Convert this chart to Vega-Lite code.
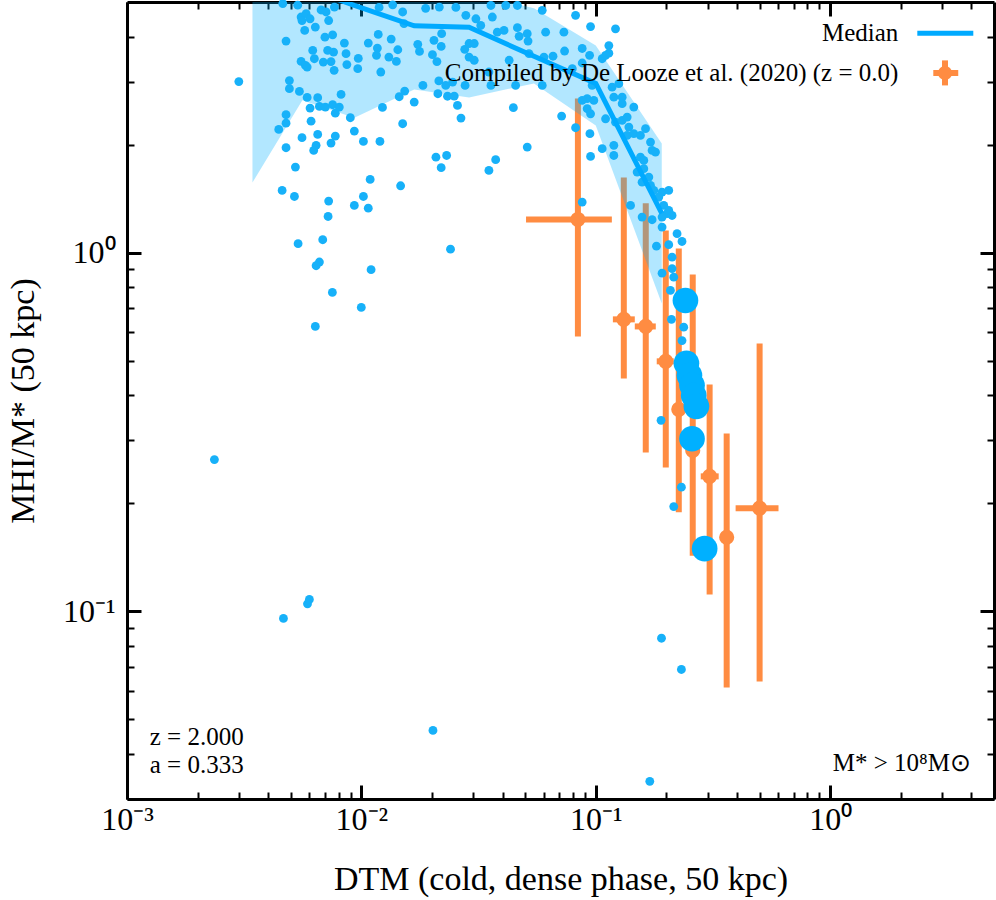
{
  "$schema": "https://vega.github.io/schema/vega-lite/v6.json",
  "width": 867,
  "height": 797,
  "autosize": "none",
  "padding": {"left": 127, "top": 2, "right": 2, "bottom": 101},
  "background": "white",
  "config": {
    "view": {"stroke": null},
    "font": "Liberation Serif",
    "axis": {
      "grid": false,
      "domain": true,
      "domainColor": "black",
      "domainWidth": 3,
      "tickColor": "black",
      "labelFont": "Liberation Serif",
      "labelFontSize": 32,
      "labelColor": "black",
      "titleFont": "Liberation Serif",
      "titleFontSize": 34,
      "titleFontWeight": "normal",
      "titleColor": "black",
      "labelOverlap": false,
      "labelFlush": false,
      "labelBound": false,
      "zindex": 1
    }
  },
  "datasets": {
    "sim": [
      {"dtm": 0.003, "ratio": 3.0}, {"dtm": 0.00462, "ratio": 4.95}, {"dtm": 0.00535, "ratio": 4.9}, {"dtm": 0.00477, "ratio": 3.89},
      {"dtm": 0.00493, "ratio": 3.02}, {"dtm": 0.00493, "ratio": 2.866}, {"dtm": 0.00544, "ratio": 2.817}, {"dtm": 0.00587, "ratio": 2.71},
      {"dtm": 0.00651, "ratio": 2.705}, {"dtm": 0.00477, "ratio": 2.425}, {"dtm": 0.00477, "ratio": 2.297}, {"dtm": 0.00444, "ratio": 2.207},
      {"dtm": 0.00477, "ratio": 1.962}, {"dtm": 0.00523, "ratio": 1.733}, {"dtm": 0.00459, "ratio": 1.492}, {"dtm": 0.00518, "ratio": 1.435},
      {"dtm": 0.00558, "ratio": 2.093}, {"dtm": 0.00604, "ratio": 2.53}, {"dtm": 0.0061, "ratio": 2.327}, {"dtm": 0.00651, "ratio": 2.137},
      {"dtm": 0.00641, "ratio": 1.992}, {"dtm": 0.00626, "ratio": 1.929}, {"dtm": 0.00662, "ratio": 2.558}, {"dtm": 0.00702, "ratio": 2.547},
      {"dtm": 0.00754, "ratio": 2.586}, {"dtm": 0.00774, "ratio": 2.45}, {"dtm": 0.00805, "ratio": 2.547}, {"dtm": 0.00819, "ratio": 2.763},
      {"dtm": 0.00774, "ratio": 2.114}, {"dtm": 0.00742, "ratio": 2.021}, {"dtm": 0.00725, "ratio": 1.393}, {"dtm": 0.00721, "ratio": 1.262},
      {"dtm": 0.00537, "ratio": 1.06}, {"dtm": 0.00684, "ratio": 1.087}, {"dtm": 0.00662, "ratio": 0.942}, {"dtm": 0.00641, "ratio": 0.92},
      {"dtm": 0.00933, "ratio": 1.355}, {"dtm": 0.0102, "ratio": 1.435}, {"dtm": 0.0107, "ratio": 1.331}, {"dtm": 0.0109, "ratio": 1.601},
      {"dtm": 0.0147, "ratio": 1.537}, {"dtm": 0.00933, "ratio": 2.183}, {"dtm": 0.0102, "ratio": 2.043}, {"dtm": 0.012, "ratio": 2.043},
      {"dtm": 0.015, "ratio": 2.289}, {"dtm": 0.00897, "ratio": 2.379}, {"dtm": 0.0123, "ratio": 2.542}, {"dtm": 0.0145, "ratio": 2.722},
      {"dtm": 0.0153, "ratio": 2.822}, {"dtm": 0.0168, "ratio": 2.63}, {"dtm": 0.0183, "ratio": 2.927}, {"dtm": 0.0208, "ratio": 1.847},
      {"dtm": 0.0231, "ratio": 1.867}, {"dtm": 0.0219, "ratio": 1.726}, {"dtm": 0.024, "ratio": 1.023}, {"dtm": 0.0212, "ratio": 2.775},
      {"dtm": 0.0214, "ratio": 3.013}, {"dtm": 0.0233, "ratio": 2.731}, {"dtm": 0.0249, "ratio": 2.733}, {"dtm": 0.0257, "ratio": 2.575},
      {"dtm": 0.0266, "ratio": 2.373}, {"dtm": 0.0229, "ratio": 2.927}, {"dtm": 0.0245, "ratio": 2.99}, {"dtm": 0.00553, "ratio": 3.415},
      {"dtm": 0.00577, "ratio": 3.328}, {"dtm": 0.00587, "ratio": 3.292}, {"dtm": 0.0062, "ratio": 3.664}, {"dtm": 0.0063, "ratio": 3.474},
      {"dtm": 0.00636, "ratio": 4.256}, {"dtm": 0.00573, "ratio": 4.167}, {"dtm": 0.00553, "ratio": 4.54}, {"dtm": 0.00581, "ratio": 4.64},
      {"dtm": 0.00558, "ratio": 4.44}, {"dtm": 0.00604, "ratio": 4.49}, {"dtm": 0.00673, "ratio": 4.75}, {"dtm": 0.00699, "ratio": 3.99},
      {"dtm": 0.00725, "ratio": 4.44}, {"dtm": 0.00707, "ratio": 4.69}, {"dtm": 0.00754, "ratio": 4.05}, {"dtm": 0.00767, "ratio": 4.84},
      {"dtm": 0.00688, "ratio": 3.4}, {"dtm": 0.00718, "ratio": 3.664}, {"dtm": 0.00742, "ratio": 3.41}, {"dtm": 0.00761, "ratio": 3.625},
      {"dtm": 0.00765, "ratio": 3.224}, {"dtm": 0.00846, "ratio": 3.84}, {"dtm": 0.0086, "ratio": 3.588}, {"dtm": 0.00867, "ratio": 3.345},
      {"dtm": 0.0097, "ratio": 3.48}, {"dtm": 0.00965, "ratio": 3.26}, {"dtm": 0.0107, "ratio": 3.84}, {"dtm": 0.0118, "ratio": 4.06},
      {"dtm": 0.0117, "ratio": 3.72}, {"dtm": 0.0116, "ratio": 3.55}, {"dtm": 0.0121, "ratio": 3.19}, {"dtm": 0.0134, "ratio": 3.94},
      {"dtm": 0.0131, "ratio": 3.51}, {"dtm": 0.0143, "ratio": 3.68}, {"dtm": 0.0141, "ratio": 3.415}, {"dtm": 0.015, "ratio": 4.69},
      {"dtm": 0.0136, "ratio": 4.91}, {"dtm": 0.0152, "ratio": 4.35}, {"dtm": 0.0174, "ratio": 3.81}, {"dtm": 0.0177, "ratio": 3.64},
      {"dtm": 0.0188, "ratio": 4.8}, {"dtm": 0.0201, "ratio": 3.565}, {"dtm": 0.0204, "ratio": 3.91}, {"dtm": 0.021, "ratio": 3.41},
      {"dtm": 0.0219, "ratio": 3.76}, {"dtm": 0.022, "ratio": 4.08}, {"dtm": 0.0215, "ratio": 4.84}, {"dtm": 0.0253, "ratio": 4.83},
      {"dtm": 0.0276, "ratio": 3.69}, {"dtm": 0.0279, "ratio": 4.59}, {"dtm": 0.0119, "ratio": 4.83}, {"dtm": 0.011, "ratio": 0.897},
      {"dtm": 0.00752, "ratio": 0.775}, {"dtm": 0.00636, "ratio": 0.623}, {"dtm": 0.00999, "ratio": 0.704}, {"dtm": 0.00236, "ratio": 0.265},
      {"dtm": 0.00465, "ratio": 0.0956}, {"dtm": 0.00589, "ratio": 0.105}, {"dtm": 0.006, "ratio": 0.108}, {"dtm": 0.0202, "ratio": 0.0466},
      {"dtm": 0.17, "ratio": 0.0336}, {"dtm": 0.0288, "ratio": 3.51}, {"dtm": 0.0303, "ratio": 3.44}, {"dtm": 0.0288, "ratio": 3.83},
      {"dtm": 0.0303, "ratio": 3.83}, {"dtm": 0.0323, "ratio": 4.3}, {"dtm": 0.0308, "ratio": 4.49}, {"dtm": 0.0362, "ratio": 4.54},
      {"dtm": 0.0357, "ratio": 4.89}, {"dtm": 0.0413, "ratio": 4.89}, {"dtm": 0.038, "ratio": 4.12}, {"dtm": 0.0406, "ratio": 4.167},
      {"dtm": 0.0463, "ratio": 4.24}, {"dtm": 0.0471, "ratio": 4.01}, {"dtm": 0.051, "ratio": 4.08}, {"dtm": 0.0514, "ratio": 3.89},
      {"dtm": 0.0611, "ratio": 4.12}, {"dtm": 0.0519, "ratio": 3.588}, {"dtm": 0.0427, "ratio": 3.44}, {"dtm": 0.0601, "ratio": 3.51},
      {"dtm": 0.0657, "ratio": 3.53}, {"dtm": 0.0731, "ratio": 4.12}, {"dtm": 0.0736, "ratio": 3.65}, {"dtm": 0.082, "ratio": 4.59},
      {"dtm": 0.095, "ratio": 4.27}, {"dtm": 0.1214, "ratio": 4.21}, {"dtm": 0.0875, "ratio": 3.71}, {"dtm": 0.0875, "ratio": 3.38},
      {"dtm": 0.0794, "ratio": 3.26}, {"dtm": 0.0941, "ratio": 3.55}, {"dtm": 0.1065, "ratio": 3.474}, {"dtm": 0.1137, "ratio": 3.78},
      {"dtm": 0.1137, "ratio": 3.6}, {"dtm": 0.0357, "ratio": 2.927}, {"dtm": 0.0455, "ratio": 2.927}, {"dtm": 0.0591, "ratio": 2.927},
      {"dtm": 0.035, "ratio": 3.19}, {"dtm": 0.0277, "ratio": 2.927}, {"dtm": 0.0445, "ratio": 2.537}, {"dtm": 0.0715, "ratio": 2.404},
      {"dtm": 0.082, "ratio": 2.231}, {"dtm": 0.0944, "ratio": 2.147}, {"dtm": 0.051, "ratio": 1.97}, {"dtm": 0.095, "ratio": 1.856},
      {"dtm": 0.1065, "ratio": 1.95}, {"dtm": 0.0374, "ratio": 1.817}, {"dtm": 0.035, "ratio": 1.696}, {"dtm": 0.0919, "ratio": 2.688},
      {"dtm": 0.0981, "ratio": 2.658}, {"dtm": 0.0919, "ratio": 2.52}, {"dtm": 0.095, "ratio": 2.44}, {"dtm": 0.0875, "ratio": 2.658},
      {"dtm": 0.0965, "ratio": 2.927}, {"dtm": 0.1174, "ratio": 2.895}, {"dtm": 0.1254, "ratio": 2.96}, {"dtm": 0.1194, "ratio": 2.715},
      {"dtm": 0.1296, "ratio": 2.715}, {"dtm": 0.1296, "ratio": 2.603}, {"dtm": 0.1453, "ratio": 2.547}, {"dtm": 0.1101, "ratio": 2.363},
      {"dtm": 0.1214, "ratio": 2.312}, {"dtm": 0.1296, "ratio": 2.338}, {"dtm": 0.1361, "ratio": 2.388}, {"dtm": 0.1384, "ratio": 2.24},
      {"dtm": 0.1361, "ratio": 2.123}, {"dtm": 0.1453, "ratio": 2.147}, {"dtm": 0.1551, "ratio": 2.123}, {"dtm": 0.163, "ratio": 2.217},
      {"dtm": 0.1712, "ratio": 2.034}, {"dtm": 0.1739, "ratio": 1.929}, {"dtm": 0.1798, "ratio": 1.908}, {"dtm": 0.1194, "ratio": 1.992},
      {"dtm": 0.1194, "ratio": 1.867}, {"dtm": 0.1551, "ratio": 1.847}, {"dtm": 0.1603, "ratio": 1.809}, {"dtm": 0.1501, "ratio": 1.678},
      {"dtm": 0.1603, "ratio": 1.715}, {"dtm": 0.1684, "ratio": 1.625}, {"dtm": 0.1576, "ratio": 1.573}, {"dtm": 0.1712, "ratio": 1.54},
      {"dtm": 0.1768, "ratio": 1.492}, {"dtm": 0.1918, "ratio": 1.476}, {"dtm": 0.2048, "ratio": 1.492}, {"dtm": 0.1857, "ratio": 1.429},
      {"dtm": 0.195, "ratio": 1.355}, {"dtm": 0.2015, "ratio": 1.285}, {"dtm": 0.2048, "ratio": 1.312}, {"dtm": 0.1918, "ratio": 1.257},
      {"dtm": 0.1576, "ratio": 1.257}, {"dtm": 0.1407, "ratio": 1.355}, {"dtm": 0.0875, "ratio": 1.384}, {"dtm": 0.1101, "ratio": 3.55},
      {"dtm": 0.1739, "ratio": 1.236}, {"dtm": 0.2116, "ratio": 1.27}, {"dtm": 0.1918, "ratio": 1.179}, {"dtm": 0.2222, "ratio": 1.13},
      {"dtm": 0.2333, "ratio": 1.075}, {"dtm": 0.1815, "ratio": 1.043}, {"dtm": 0.2048, "ratio": 1.053}, {"dtm": 0.2116, "ratio": 0.972},
      {"dtm": 0.2116, "ratio": 0.903}, {"dtm": 0.1918, "ratio": 0.877}, {"dtm": 0.2151, "ratio": 0.855}, {"dtm": 0.2082, "ratio": 0.785},
      {"dtm": 0.2103, "ratio": 0.652}, {"dtm": 0.2372, "ratio": 0.62}, {"dtm": 0.2333, "ratio": 0.569}, {"dtm": 0.1899, "ratio": 0.341},
      {"dtm": 0.2319, "ratio": 0.222}, {"dtm": 0.2151, "ratio": 0.196}, {"dtm": 0.1907, "ratio": 0.0842}, {"dtm": 0.2319, "ratio": 0.0689},
      {"dtm": 0.0463, "ratio": 4.89}, {"dtm": 0.0591, "ratio": 4.74}
    ],
    "big": [
      {"dtm": 0.2413, "ratio": 0.736}, {"dtm": 0.2436, "ratio": 0.492}, {"dtm": 0.2509, "ratio": 0.455}, {"dtm": 0.2574, "ratio": 0.427},
      {"dtm": 0.2617, "ratio": 0.4}, {"dtm": 0.2687, "ratio": 0.373}, {"dtm": 0.2574, "ratio": 0.303}, {"dtm": 0.2914, "ratio": 0.1496}
    ],
    "obs": [
      {"dtm": 0.0839, "xlo": 0.0504, "xhi": 0.1171, "ratio": 1.238, "ylo": 0.584, "yhi": 2.693},
      {"dtm": 0.1317, "xlo": 0.1183, "xhi": 0.1467, "ratio": 0.652, "ylo": 0.446, "yhi": 1.622},
      {"dtm": 0.1634, "xlo": 0.1467, "xhi": 0.1803, "ratio": 0.623, "ylo": 0.2775, "yhi": 1.373},
      {"dtm": 0.1989, "xlo": 0.182, "xhi": 0.2151, "ratio": 0.498, "ylo": 0.252, "yhi": 1.154},
      {"dtm": 0.226, "xlo": 0.226, "xhi": 0.226, "ratio": 0.366, "ylo": 0.189, "yhi": 1.028},
      {"dtm": 0.2592, "xlo": 0.2592, "xhi": 0.2592, "ratio": 0.281, "ylo": 0.143, "yhi": 0.87},
      {"dtm": 0.306, "xlo": 0.2804, "xhi": 0.3345, "ratio": 0.238, "ylo": 0.1115, "yhi": 0.4294},
      {"dtm": 0.3618, "xlo": 0.3618, "xhi": 0.3618, "ratio": 0.161, "ylo": 0.0614, "yhi": 0.3134},
      {"dtm": 0.5, "xlo": 0.395, "xhi": 0.602, "ratio": 0.194, "ylo": 0.0638, "yhi": 0.5587}
    ],
    "median": [
      {"dtm": 0.00343, "ratio": 6.2, "lo": 1.57, "hi": 7.42},
      {"dtm": 0.0056, "ratio": 5.53, "lo": 2.66, "hi": 6.96},
      {"dtm": 0.00933, "ratio": 4.89, "lo": 2.38, "hi": 6.53},
      {"dtm": 0.0168, "ratio": 4.29, "lo": 2.85, "hi": 6.12},
      {"dtm": 0.0288, "ratio": 4.25, "lo": 2.71, "hi": 5.32},
      {"dtm": 0.0545, "ratio": 3.53, "lo": 2.965, "hi": 4.8},
      {"dtm": 0.1, "ratio": 2.965, "lo": 2.264, "hi": 3.78},
      {"dtm": 0.1912, "ratio": 1.287, "lo": 0.722, "hi": 2.017}
    ]
  },
  "layer": [
    {
      "layer": [
        {
          "data": {"name": "obs"},
          "mark": {"type": "rule", "strokeWidth": 6, "color": "#ff8c42"},
          "encoding": {
            "x": {
              "field": "dtm", "type": "quantitative",
              "scale": {"type": "log", "domain": [0.001, 5], "nice": false},
              "axis": {
                "orient": "bottom",
                "title": "DTM (cold, dense phase, 50 kpc)",
                "values": [0.001,0.002,0.003,0.004,0.005,0.006,0.007,0.008,0.009,0.01,0.02,0.03,0.04,0.05,0.06,0.07,0.08,0.09,0.1,0.2,0.3,0.4,0.5,0.6,0.7,0.8,0.9,1,2,3,4],
                "labelExpr": "datum.value == 1 ? '10⁰' : datum.value == 0.1 ? '10⁻¹' : datum.value == 0.01 ? '10⁻²' : datum.value == 0.001 ? '10⁻³' : ''",
                "tickSize": {"condition": {"test": "indexof([0.001,0.01,0.1,1], datum.value) >= 0", "value": -14}, "value": -7},
                "tickWidth": {"condition": {"test": "indexof([0.001,0.01,0.1,1], datum.value) >= 0", "value": 3}, "value": 2},
                "labelPadding": 19,
                "titlePadding": 20
              }
            },
            "y": {
              "field": "ylo", "type": "quantitative",
              "scale": {"type": "log", "domain": [0.03, 5], "nice": false},
              "axis": {
                "orient": "left",
                "title": "MHI/M* (50 kpc)",
                "values": [0.03,0.04,0.05,0.06,0.07,0.08,0.09,0.1,0.2,0.3,0.4,0.5,0.6,0.7,0.8,0.9,1,2,3,4],
                "labelExpr": "datum.value == 1 ? '10⁰' : datum.value == 0.1 ? '10⁻¹' : ''",
                "tickSize": {"condition": {"test": "indexof([0.1,1], datum.value) >= 0", "value": -14}, "value": -7},
                "tickWidth": {"condition": {"test": "indexof([0.1,1], datum.value) >= 0", "value": 3}, "value": 2},
                "labelPadding": 26,
                "titlePadding": 22
              }
            },
            "y2": {"field": "yhi"}
          }
        },
        {
          "data": {"name": "obs"},
          "mark": {"type": "rule", "strokeWidth": 6, "color": "#ff8c42"},
          "encoding": {
            "x": {"field": "xlo", "type": "quantitative", "scale": {"type": "log", "domain": [0.001, 5], "nice": false}},
            "x2": {"field": "xhi"},
            "y": {"field": "ratio", "type": "quantitative", "scale": {"type": "log", "domain": [0.03, 5], "nice": false}}
          }
        },
        {
          "data": {"name": "obs"},
          "mark": {"type": "circle", "size": 230, "color": "#ff8c42", "opacity": 1},
          "encoding": {
            "x": {"field": "dtm", "type": "quantitative", "scale": {"type": "log", "domain": [0.001, 5], "nice": false}},
            "y": {"field": "ratio", "type": "quantitative", "scale": {"type": "log", "domain": [0.03, 5], "nice": false}}
          }
        },
        {
          "data": {"name": "median"},
          "mark": {"type": "area", "color": "#00b0ff", "opacity": 0.3, "clip": true},
          "encoding": {
            "x": {"field": "dtm", "type": "quantitative", "scale": {"type": "log", "domain": [0.001, 5], "nice": false}},
            "y": {"field": "lo", "type": "quantitative", "scale": {"type": "log", "domain": [0.03, 5], "nice": false}},
            "y2": {"field": "hi"}
          }
        },
        {
          "data": {"name": "sim"},
          "mark": {"type": "circle", "size": 78, "color": "#17b1f9", "opacity": 1},
          "encoding": {
            "x": {"field": "dtm", "type": "quantitative", "scale": {"type": "log", "domain": [0.001, 5], "nice": false}},
            "y": {"field": "ratio", "type": "quantitative", "scale": {"type": "log", "domain": [0.03, 5], "nice": false}}
          }
        },
        {
          "data": {"name": "median"},
          "mark": {"type": "line", "color": "#00aaff", "strokeWidth": 5, "clip": true},
          "encoding": {
            "x": {"field": "dtm", "type": "quantitative", "scale": {"type": "log", "domain": [0.001, 5], "nice": false}},
            "y": {"field": "ratio", "type": "quantitative", "scale": {"type": "log", "domain": [0.03, 5], "nice": false}}
          }
        },
        {
          "data": {"name": "big"},
          "mark": {"type": "circle", "size": 660, "color": "#00b0ff", "opacity": 1},
          "encoding": {
            "x": {"field": "dtm", "type": "quantitative", "scale": {"type": "log", "domain": [0.001, 5], "nice": false}},
            "y": {"field": "ratio", "type": "quantitative", "scale": {"type": "log", "domain": [0.03, 5], "nice": false}}
          }
        },
        {
          "data": {"values": [{}]},
          "mark": {"type": "text", "align": "right", "baseline": "middle", "fontSize": 25, "font": "Liberation Serif", "color": "black"},
          "encoding": {"x": {"datum": 1.954}, "y": {"datum": 4.09}, "text": {"value": "Median"}}
        },
        {
          "data": {"values": [{}]},
          "mark": {"type": "rule", "strokeWidth": 5, "color": "#00aaff"},
          "encoding": {"x": {"datum": 2.354}, "x2": {"datum": 4.08}, "y": {"datum": 4.09}}
        },
        {
          "data": {"values": [{}]},
          "mark": {"type": "text", "align": "right", "baseline": "middle", "fontSize": 25, "font": "Liberation Serif", "color": "black"},
          "encoding": {"x": {"datum": 1.954}, "y": {"datum": 3.16}, "text": {"value": "Compiled by De Looze et al. (2020) (z = 0.0)"}}
        },
        {
          "data": {"values": [{}]},
          "mark": {"type": "rule", "strokeWidth": 6, "color": "#ff8c42"},
          "encoding": {"x": {"datum": 2.754}, "x2": {"datum": 3.519}, "y": {"datum": 3.17}}
        },
        {
          "data": {"values": [{}]},
          "mark": {"type": "rule", "strokeWidth": 6, "color": "#ff8c42"},
          "encoding": {"x": {"datum": 3.09}, "y": {"datum": 2.927}, "y2": {"datum": 3.437}}
        },
        {
          "data": {"values": [{}]},
          "mark": {"type": "circle", "size": 200, "color": "#ff8c42", "opacity": 1},
          "encoding": {"x": {"datum": 3.09}, "y": {"datum": 3.17}}
        },
        {
          "data": {"values": [{"label": "z = 2.000", "ypos": 0.0446}, {"label": "a = 0.333", "ypos": 0.0372}]},
          "mark": {"type": "text", "align": "left", "baseline": "middle", "fontSize": 25, "font": "Liberation Serif", "color": "black"},
          "encoding": {"x": {"datum": 0.00125}, "y": {"field": "ypos", "type": "quantitative"}, "text": {"field": "label"}}
        },
        {
          "data": {"values": [{}]},
          "mark": {"type": "text", "align": "right", "baseline": "middle", "fontSize": 25, "font": "Liberation Serif", "color": "black"},
          "encoding": {"x": {"datum": 3.986}, "y": {"datum": 0.0377}, "text": {"value": "M* > 10⁸M⊙"}}
        }
      ]
    },
    {
      "data": {"name": "big"},
      "mark": {"type": "circle", "opacity": 0},
      "encoding": {
        "x": {
          "field": "dtm", "type": "quantitative",
          "scale": {"type": "log", "domain": [0.001, 5], "nice": false},
          "axis": {
            "orient": "top", "title": null, "labels": false,
            "values": [0.001,0.002,0.003,0.004,0.005,0.006,0.007,0.008,0.009,0.01,0.02,0.03,0.04,0.05,0.06,0.07,0.08,0.09,0.1,0.2,0.3,0.4,0.5,0.6,0.7,0.8,0.9,1,2,3,4],
            "tickSize": {"condition": {"test": "indexof([0.001,0.01,0.1,1], datum.value) >= 0", "value": -14}, "value": -7},
            "tickWidth": {"condition": {"test": "indexof([0.001,0.01,0.1,1], datum.value) >= 0", "value": 3}, "value": 2}
          }
        },
        "y": {
          "field": "ratio", "type": "quantitative",
          "scale": {"type": "log", "domain": [0.03, 5], "nice": false},
          "axis": {
            "orient": "right", "title": null, "labels": false,
            "values": [0.03,0.04,0.05,0.06,0.07,0.08,0.09,0.1,0.2,0.3,0.4,0.5,0.6,0.7,0.8,0.9,1,2,3,4],
            "tickSize": {"condition": {"test": "indexof([0.1,1], datum.value) >= 0", "value": -14}, "value": -7},
            "tickWidth": {"condition": {"test": "indexof([0.1,1], datum.value) >= 0", "value": 3}, "value": 2}
          }
        }
      }
    }
  ],
  "resolve": {"axis": {"x": "independent", "y": "independent"}}
}
